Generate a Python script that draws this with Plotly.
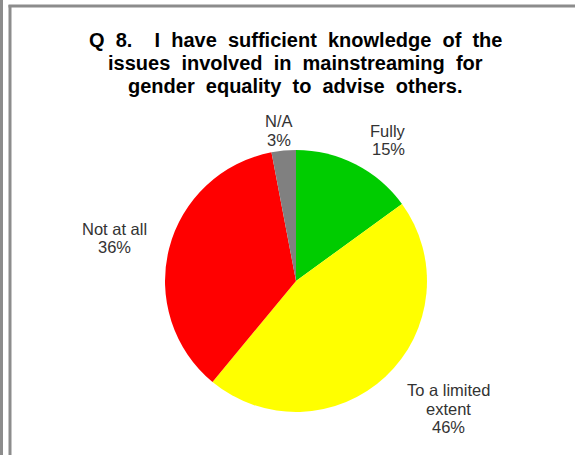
import plotly.graph_objects as go

# Survey responses for question 8
labels = ["Fully", "To a limited extent", "Not at all", "N/A"]
values = [15, 46, 36, 3]
label_lines = [["Fully"], ["To a limited", "extent"], ["Not at all"], ["N/A"]]
colors = ["#00CC00", "#FFFF00", "#FF0000", "#808080"]

title_lines = [
    "Q 8.  I have sufficient knowledge of the",
    "issues involved in mainstreaming for",
    "gender equality to advise others.",
]

W, H = 575, 455
cx, cy, r = 296, 281, 131

# first-line centre of each slice label, in pixels from top-left
label_pos = [(388, 131), (448, 390), (114, 229), (279, 121)]
label_step = 18.5
title_y = [40, 63, 86]


def spaced(s, n=3):
    # widen the gap between words
    return s.replace(" ", "&nbsp;" * n)


fig = go.Figure(go.Pie(
    labels=labels,
    values=values,
    marker=dict(colors=colors, line=dict(width=0)),
    sort=False,
    direction="clockwise",
    rotation=0,
    textinfo="none",
    hoverinfo="label+percent",
    showlegend=False,
    domain=dict(x=[(cx - r) / W, (cx + r) / W],
                y=[(H - cy - r) / H, (H - cy + r) / H]),
))

annotations = []
for line, ty in zip(title_lines, title_y):
    annotations.append(dict(
        text="<b>" + spaced(line, 2) + "</b>",
        x=295 / W, y=1 - ty / H, xref="paper", yref="paper",
        xanchor="center", yanchor="middle", showarrow=False,
        font=dict(family="Arial, Liberation Sans", size=20, color="#000000"),
    ))

total = sum(values)
for lines, v, (px, py) in zip(label_lines, values, label_pos):
    all_lines = lines + [f"{round(100 * v / total)}%"]
    for i, txt in enumerate(all_lines):
        annotations.append(dict(
            text=txt,
            x=px / W, y=1 - (py + i * label_step) / H, xref="paper", yref="paper",
            xanchor="center", yanchor="middle", showarrow=False,
            font=dict(family="Arial, Liberation Sans", size=16.5, color="#333333"),
        ))

shapes = [
    dict(type="line", xref="paper", yref="paper",
         x0=1.5 / W, x1=1.5 / W, y0=0, y1=1,
         line=dict(color="#8c8c8c", width=3)),
    dict(type="line", xref="paper", yref="paper",
         x0=10 / W, x1=10 / W, y0=0, y1=1 - 5 / H,
         line=dict(color="#8c8c8c", width=3)),
    dict(type="line", xref="paper", yref="paper",
         x0=8.5 / W, x1=1, y0=1 - 6 / H, y1=1 - 6 / H,
         line=dict(color="#8c8c8c", width=3)),
]

fig.update_layout(
    width=W, height=H,
    margin=dict(l=0, r=0, t=0, b=0),
    paper_bgcolor="white",
    plot_bgcolor="white",
    annotations=annotations,
    shapes=shapes,
)

fig.write_html("out.html")
